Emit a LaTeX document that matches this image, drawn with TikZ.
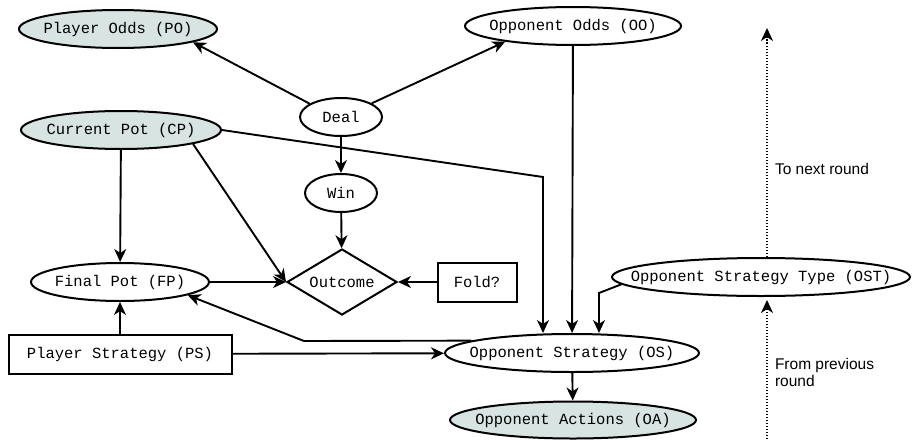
\documentclass[tikz,border=0pt]{standalone}
\usepackage{fontspec}
\setmonofont{Liberation Mono}
\newfontfamily\labelfont{Liberation Sans}
\usetikzlibrary{shapes.geometric,arrows.meta}
\definecolor{nodefill}{RGB}{216,228,226}
\newcommand{\zb}[1]{\makebox[0pt]{#1}}
\begin{document}
\begin{tikzpicture}[x=1pt,y=-1pt,
  every node/.style={font=\ttfamily\fontsize{15.5}{18}\selectfont, inner sep=0pt, line width=2pt},
  ell/.style={draw, ellipse, minimum height=38pt},
  shaded/.style={ell, fill=nodefill},
  boxnode/.style={draw, rectangle, minimum height=39pt},
  conn/.style={line width=1.9pt, -{Stealth[length=13pt,width=12pt,inset=4pt]}},
  dotconn/.style={line width=2pt, dash pattern=on 1.5pt off 1.5pt, -{Stealth[length=13pt,width=12pt,inset=4pt]}},
  lbl/.style={font=\labelfont\fontsize{15.5}{17}\selectfont, anchor=west, align=left}]
\useasboundingbox (0,0) rectangle (912,439);

\node[shaded, minimum width=198pt] (PO) at (118,29) {\zb{Player Odds (PO)}};
\node[ell, minimum width=216pt] (OO) at (573,26) {\zb{Opponent Odds (OO)}};
\node[ell, minimum width=82pt] (Deal) at (341,117) {\zb{Deal}};
\node[shaded, minimum width=200pt] (CP) at (121,130) {\zb{Current Pot (CP)}};
\node[ell, minimum width=72pt] (Win) at (341,193) {\zb{Win}};
\node[draw, diamond, minimum width=110pt, minimum height=66pt] (Out) at (342,282) {\zb{Outcome}};
\node[boxnode, minimum width=79pt] (Fold) at (477,282) {Fold?};
\node[ell, minimum width=178pt] (FP) at (120,282) {\zb{Final Pot (FP)}};
\node[boxnode, minimum width=223pt] (PS) at (120,354) {Player Strategy (PS)};
\node[ell, minimum width=254pt] (OS) at (572,353) {\zb{Opponent Strategy (OS)}};
\node[shaded, minimum width=246pt, minimum height=37pt] (OA) at (573,420) {\zb{Opponent Actions (OA)}};
\node[ell, minimum width=298pt] (OST) at (761,277) {\zb{Opponent Strategy Type (OST)}};

\coordinate (c1) at (543,177);
\coordinate (c2) at (304,341);
\coordinate (c3) at (599,293);
\coordinate (top) at (767,28);
\coordinate (bot) at (767,439);

\draw[conn] (Deal.157) -- (PO.-10);
\draw[conn] (Deal.24) -- (OO.193);
\draw[conn] (Deal) -- (Win);
\draw[conn] (Win) -- (Out);
\draw[conn] (CP) -- (FP);
\draw[conn] (CP.-11) -- (Out.west);
\draw[conn] (CP.east) -- (c1) -- (c1 |- OS.north);
\draw[conn] (OO) -- (OS);
\draw[conn] (OST.183) -- (c3) -- (c3 |- OS.north);
\draw[conn] (FP) -- (Out);
\draw[conn] (Fold) -- (Out);
\draw[conn] (PS) -- (FP);
\draw[conn] (PS) -- (OS);
\draw[conn] (OS.173) -- (c2) -- (FP.-11);
\draw[conn] (OS) -- (OA);

\draw[dotconn] (OST.north -| top) -- (top);
\draw[dotconn, shorten >=3pt] (bot) -- (OST.south -| bot);

\node[lbl] (next) at (774,169) {To next round};
\node[lbl] (prev) at (774,372) {From previous\\round};
\end{tikzpicture}
\end{document}
